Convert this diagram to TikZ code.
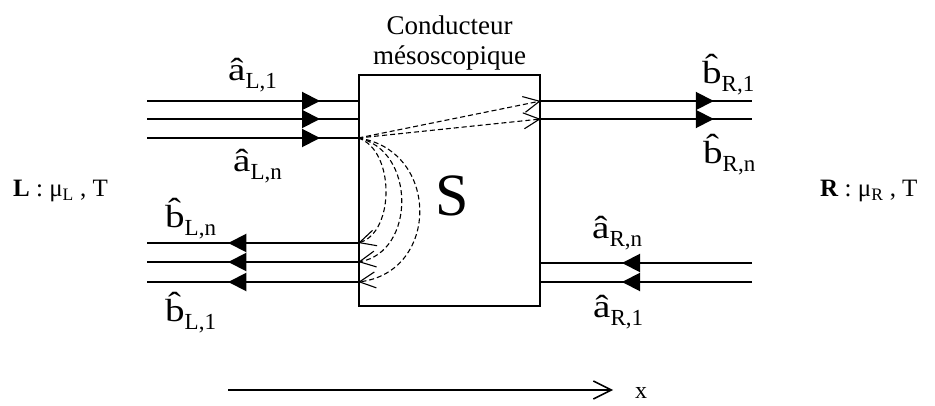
\documentclass[tikz,border=0pt]{standalone}
\usepackage{fontspec}
\setmainfont{Liberation Serif}
\usetikzlibrary{arrows.meta,decorations.markings,positioning}
\newcommand{\chan}[2]{\scalebox{1.22}[1]{#1}\raisebox{-8pt}{\fontsize{23}{23}\selectfont #2}}

\begin{document}
\begin{tikzpicture}[
        x=1pt,y=-1pt,
        wire/.style={line width=2pt},
        midtip/.style={decoration={markings,
            mark=at position #1 with {\arrow{Triangle[length=18pt,width=18pt]}}},
          postaction={decorate}},
        scat/.style={dashed,dash pattern=on 5pt off 3pt,line width=1.1pt,
          -{Straight Barb[length=16pt,width=16pt]}},
        lab/.style={inner sep=0pt,anchor=base west,
          font=\fontsize{32}{32}\selectfont}
      ]
      \useasboundingbox (0,0) rectangle (935,406);
      \node (cond) [draw,line width=1.5pt,minimum width=181pt,minimum height=231pt,
        inner sep=0pt] at (449.5,190.5) {};
      \node (S) at (452,196) {\fontsize{60}{60}\selectfont S};
      \node (title) [above=4pt of cond.north,align=center,inner sep=0pt,
        font=\fontsize{27}{30}\selectfont] {Conducteur\\m\'esoscopique};
      % left reservoir
      \foreach \y in {101,119,138} {
        \coordinate (inL\y) at (147,\y);
        \draw[wire,midtip=173pt] (inL\y) -- (inL\y -| cond.west);
      }
      \foreach \y in {243,262,282} {
        \coordinate (outL\y) at (147,\y);
        \draw[wire,midtip=130pt] (outL\y -| cond.west) -- (outL\y);
      }
      % right reservoir
      \foreach \y in {101,119} {
        \coordinate (outR\y) at (752,\y);
        \draw[wire,midtip=173pt] (outR\y -| cond.east) -- (outR\y);
      }
      \foreach \y in {263,282} {
        \coordinate (inR\y) at (752,\y);
        \draw[wire,midtip=130pt] (inR\y) -- (inR\y -| cond.east);
      }
      % scattering paths
      \coordinate (src) at (inL138 -| cond.west);
      \draw[scat] (src) -- (outR101 -| cond.east);
      \draw[scat] (src) -- (outR119 -| cond.east);
      \draw[scat] (src) .. controls (395,150) and (395,232) .. (outL243 -| cond.west);
      \draw[scat] (src) .. controls (416,150) and (416,252) .. (outL262 -| cond.west);
      \draw[scat] (src) .. controls (440,150) and (440,272) .. (outL282 -| cond.west);
      % labels
      \node (aL1) [lab] at (228,81) {\chan{â}{L,1}};
      \node (aLn) [lab] at (233,172) {\chan{â}{L,n}};
      \node (bLn) [lab] at (165,228) {\chan{b̂}{L,n}};
      \node (bL1) [lab] at (165,322) {\chan{b̂}{L,1}};
      \node (bR1) [lab] at (702,84) {\chan{b̂}{R,1}};
      \node (bRn) [lab] at (703,164) {\chan{b̂}{R,n}};
      \node (aRn) [lab] at (592,239) {\chan{â}{R,n}};
      \node (aR1) [lab] at (593,317) {\chan{â}{R,1}};
      \node (resL) [inner sep=0pt,anchor=base west,font=\fontsize{25}{25}\selectfont]
        at (13,197) {\textbf{L} : μ\textsubscript{L} , T};
      \node (resR) [inner sep=0pt,anchor=base west,font=\fontsize{25}{25}\selectfont]
        at (820,197) {\textbf{R} : μ\textsubscript{R} , T};
      % position axis
      \coordinate (x0) at (228,390);
      \coordinate (x1) at (613,390);
      \draw[line width=1.5pt,-{Straight Barb[length=18pt,width=18pt]}] (x0) -- (x1);
      \node (xlab) [inner sep=0pt,anchor=base west,font=\fontsize{24}{24}\selectfont]
        at (635,398) {x};
    \end{tikzpicture}
\end{document}
